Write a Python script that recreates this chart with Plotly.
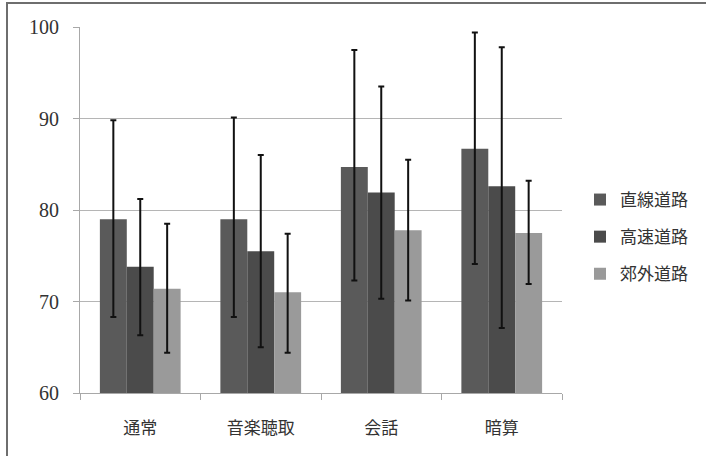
import plotly.graph_objects as go

categories = ["通常", "音楽聴取", "会話", "暗算"]
series_names = ["直線道路", "高速道路", "郊外道路"]

straight = [79.0, 79.0, 84.7, 86.7]
straight_up = [10.8, 11.1, 12.8, 12.7]
straight_dn = [10.7, 10.7, 12.4, 12.6]

highway = [73.8, 75.5, 81.9, 82.6]
highway_up = [7.4, 10.5, 11.6, 15.2]
highway_dn = [7.5, 10.5, 11.6, 15.5]

suburb = [71.4, 71.0, 77.8, 77.5]
suburb_up = [7.1, 6.4, 7.7, 5.7]
suburb_dn = [7.0, 6.6, 7.7, 5.6]

colors = ["#5a5a5a", "#4b4b4b", "#9a9a9a"]

fig = go.Figure()
data = [(straight, straight_up, straight_dn), (highway, highway_up, highway_dn), (suburb, suburb_up, suburb_dn)]
for name, (vals, up, dn), col in zip(series_names, data, colors):
    fig.add_trace(go.Bar(
        name=name, x=categories, y=vals, marker=dict(color=col, line=dict(width=0)),
        legendgroup=name,
        error_y=dict(type="data", array=up, arrayminus=dn, symmetric=False,
                     color="#111111", thickness=2, width=3),
    ))

W, H = 706, 456
L, R, T, B = 80, 144, 27, 63
pw, ph = W - L - R, H - T - B

def px(x):
    return (x - L) / pw

def py(y):
    return (H - B - y) / ph

fig.update_layout(
    width=W, height=H,
    margin=dict(l=L, r=R, t=T, b=B, pad=0),
    paper_bgcolor="white", plot_bgcolor="white",
    barmode="group", bargap=0.33, bargroupgap=0,
    showlegend=True,
    legend=dict(x=px(580), y=py(182), xanchor="left", yanchor="top",
                font=dict(family="Noto Sans CJK JP", size=17, color="#333333"),
                tracegroupgap=12, itemwidth=30, bgcolor="rgba(0,0,0,0)"),
    xaxis=dict(
        showgrid=False, showline=True, linecolor="#a8a8a8", linewidth=1,
        ticks="outside", tickson="boundaries", ticklen=6, tickcolor="#a8a8a8",
        ticklabelstandoff=20,
        tickfont=dict(family="Noto Sans CJK JP", size=17, color="#333333"),
    ),
    yaxis=dict(
        range=[60, 100], dtick=10, tick0=60,
        showgrid=True, gridcolor="#b5b5b5", gridwidth=1,
        showline=True, linecolor="#a8a8a8", linewidth=1,
        ticks="outside", ticklen=6, tickcolor="#a8a8a8",
        ticklabelstandoff=10,
        tickfont=dict(family="Liberation Serif", size=20, color="#333333"),
        zeroline=False,
    ),
    shapes=[dict(type="rect", xref="paper", yref="paper",
                 x0=px(7), x1=px(720), y0=py(3), y1=py(480),
                 line=dict(color="#6e6e6e", width=2), fillcolor="rgba(0,0,0,0)", layer="below")],
)

fig.write_html("out.html")
